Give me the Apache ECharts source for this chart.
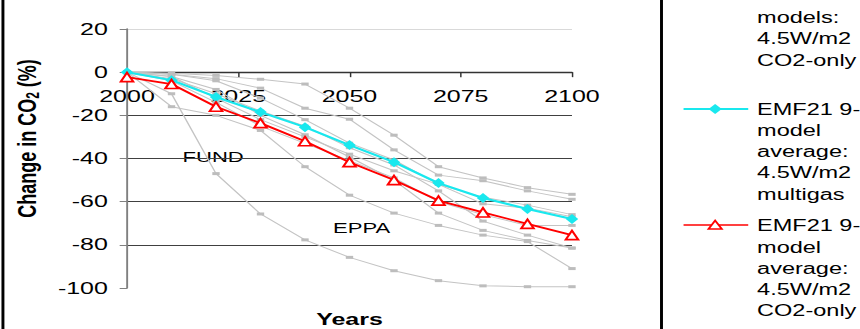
<!DOCTYPE html>
<html>
<head>
<meta charset="utf-8">
<script src="https://cdn.jsdelivr.net/npm/echarts@6/dist/echarts.min.js"></script>
<style>
html,body{margin:0;padding:0;background:#fff;overflow:hidden;}
#wrap{width:860px;height:329px;overflow:hidden;}
#chart{width:585px;height:329px;transform:scaleX(1.47);transform-origin:0 0;}
</style>
</head>
<body>
<div id="wrap"><div id="chart"></div></div>
<script>
// ---- data ----
const years = [2000, 2010, 2020, 2030, 2040, 2050, 2060, 2070, 2080, 2090, 2100];
const multigasAvg = [0, -3.7, -11.5, -18.5, -25.5, -33.8, -41.7, -51.4, -58.3, -63.4, -68];
const co2OnlyAvg = [-2.3, -5.5, -16, -23.6, -32, -41.7, -50, -59.5, -65, -70.3, -75.5];
// individual EMF21 models, 4.5 W/m2 CO2-only
const modelA = [0, -10, -47, -65.7, -77.7, -85.8, -92, -96.6, -99, -99.4, -99.4];
const modelB = [0, -16, -20, -27, -43.8, -57, -65.3, -71, -75.5, -78.5, -91];
const modelC = [0, -3, -10, -18, -25, -35, -43, -55, -69, -75.5, -81.5];
const modelD = [0, -1, -4, -12, -22, -32.9, -40.7, -52, -58, -61.6, -66];
const modelE = [0, -0.5, -1.5, -3.3, -5.5, -16.7, -29.2, -43.8, -49, -53.5, -56.6];
const modelF = [0, -1, -3, -7.4, -16.7, -21.8, -36, -47.7, -50.3, -55, -58.9];
const modelG = [0, -2, -8, -20, -29, -39.3, -50, -65.3, -73.3, -78, -81.5];
const modelH = [0, -4, -14, -25, -33, -41, -49, -60, -66, -71, -71];
const modelI = [0, -2, -12, -22, -30, -38, -45.7, -52, -61, -63, -67];
const grayModels = [modelA, modelB, modelC, modelD, modelE, modelF, modelG, modelH, modelI];
const yTicks = [-100, -80, -60, -40, -20, 0, 20];
const xTicks = [2000, 2025, 2050, 2075, 2100];

const pairs = arr => years.map((y, i) => [y, arr[i]]);
const FONT = '"Liberation Sans", Arial, sans-serif';

const GRID_TOP = 29, GRID_H = 259;
// pixel distance from the bottom of the plot up to the value 0
const zeroOffset = -GRID_H * (0 - yTicks[0]) / (yTicks[yTicks.length - 1] - yTicks[0]);

const series = grayModels.map((m, i) => ({
  name: 'EMF21 models: 4.5W/m2 CO2-only',
  type: 'line',
  data: pairs(m),
  symbol: 'rect',
  symbolSize: [5, 3],
  lineStyle: {color: '#c4c4c4', width: 1},
  itemStyle: {color: '#bdbdbd'},
  z: 2,
  silent: true
}));
series.push({
  name: 'EMF21 9-model average: 4.5W/m2 multigas',
  type: 'line',
  data: pairs(multigasAvg),
  symbol: 'diamond',
  symbolSize: [8.5, 10],
  lineStyle: {color: '#19e8ee', width: 2},
  itemStyle: {color: '#19e8ee'},
  z: 4
});
series.push({
  name: 'EMF21 9-model average: 4.5W/m2 CO2-only',
  type: 'line',
  data: pairs(co2OnlyAvg),
  symbol: 'triangle',
  symbolSize: [8.5, 9],
  showAllSymbol: true,
  lineStyle: {color: '#ff0000', width: 1.8},
  itemStyle: {color: '#ffffff', borderColor: '#ff0000', borderWidth: 1.6},
  z: 5
});

const chart = echarts.init(document.getElementById('chart'), null, {renderer: 'svg'});
chart.setOption({
  animation: false,
  backgroundColor: '#fff',
  textStyle: {fontFamily: FONT},
  grid: {left: 86.4, top: GRID_TOP, width: 302.7, height: GRID_H, containLabel: false, outerBoundsMode: 'none'},
  xAxis: {
    type: 'value', min: xTicks[0], max: xTicks[xTicks.length - 1], interval: 25,
    position: 'bottom', offset: zeroOffset,
    name: 'Years', nameLocation: 'middle', nameGap: 239,
    nameTextStyle: {fontFamily: FONT, fontSize: 17, fontWeight: 'bold', color: '#000'},
    axisLine: {show: true, onZero: false, lineStyle: {color: '#333', width: 1.3}},
    axisTick: {show: true, length: 5, lineStyle: {color: '#333', width: 1}},
    axisLabel: {fontFamily: FONT, fontSize: 17, color: '#000', margin: 16,
      formatter: v => String(v)},
    splitLine: {show: false}
  },
  yAxis: {
    type: 'value', min: yTicks[0], max: yTicks[yTicks.length - 1], interval: 20,
    name: 'Change in CO{sub|2} (%)', nameLocation: 'middle', nameRotate: 90, nameGap: 58,
    nameTextStyle: {fontFamily: FONT, fontSize: 18, fontWeight: 'bold', color: '#000',
      padding: [0, 0, 0, 40],
      rich: {sub: {fontSize: 12, fontWeight: 'bold', fontFamily: FONT, verticalAlign: 'bottom', padding: [8, 0, 0, 0]}}},
    axisLine: {show: true, onZero: false, lineStyle: {color: '#808080', width: 1.3}},
    axisTick: {show: true, length: 5, lineStyle: {color: '#808080', width: 1}},
    axisLabel: {fontFamily: FONT, fontSize: 17, color: '#000', margin: 13},
    splitLine: {show: true, lineStyle: {color: ['rgba(0,0,0,0)', '#404040', '#404040', '#404040', '#404040', '#404040', '#d9d9d9'], width: 1}}
  },
  series: series,
  graphic: [
    {type: 'line', shape: {x1: 2, y1: 0, x2: 2, y2: 329}, style: {stroke: '#000', lineWidth: 2}},
    {type: 'line', shape: {x1: 450, y1: 0, x2: 450, y2: 329}, style: {stroke: '#000', lineWidth: 2}},
    {type: 'text', x: 145, y: 157, style: {text: 'FUND', font: '15px ' + FONT, fill: '#000', align: 'center', verticalAlign: 'middle'}},
    {type: 'text', x: 246, y: 228, style: {text: 'EPPA', font: '15px ' + FONT, fill: '#000', align: 'center', verticalAlign: 'middle'}},
    {type: 'text', x: 515, y: 6.3, style: {text: 'models:\n4.5W/m2\nCO2-only', font: '16px ' + FONT, lineHeight: 21.5, fill: '#000', verticalAlign: 'top'}},
    {type: 'line', shape: {x1: 465, y1: 109, x2: 509, y2: 109}, style: {stroke: '#19e8ee', lineWidth: 2}},
    {type: 'polygon', shape: {points: [[486.5, 104], [491, 109], [486.5, 114], [482, 109]]}, style: {fill: '#19e8ee'}},
    {type: 'text', x: 515, y: 98.3, style: {text: 'EMF21 9-\nmodel\naverage:\n4.5W/m2\nmultigas', font: '16px ' + FONT, lineHeight: 21.3, fill: '#000', verticalAlign: 'top'}},
    {type: 'line', shape: {x1: 465, y1: 225, x2: 509, y2: 225}, style: {stroke: '#ff0000', lineWidth: 1.5}},
    {type: 'polygon', shape: {points: [[486.5, 220.5], [491, 229], [482, 229]]}, style: {fill: '#fff', stroke: '#ff0000', lineWidth: 1.5}},
    {type: 'text', x: 515, y: 215, style: {text: 'EMF21 9-\nmodel\naverage:\n4.5W/m2\nCO2-only', font: '16px ' + FONT, lineHeight: 21.3, fill: '#000', verticalAlign: 'top'}}
  ]
});
</script>
</body>
</html>
